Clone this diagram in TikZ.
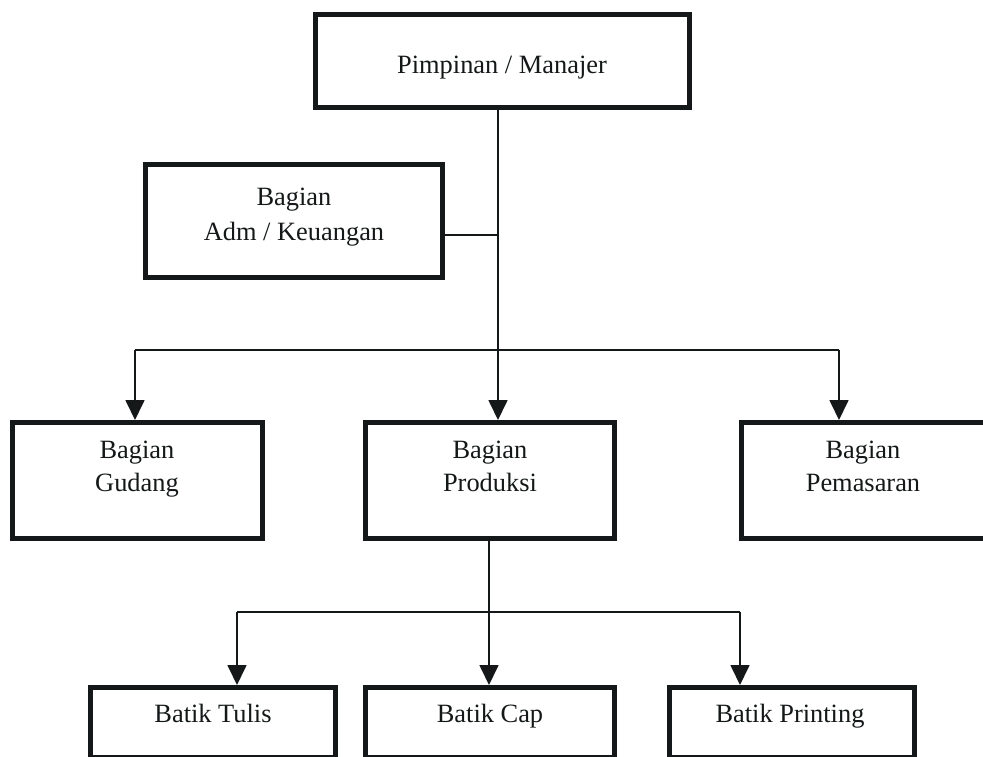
\documentclass[tikz,border=0pt]{standalone}
\usepackage{fontspec}
\setmainfont{Liberation Serif}
\usetikzlibrary{arrows.meta}
\definecolor{ink}{HTML}{141818}
\begin{document}
\begin{tikzpicture}[x=1pt,y=-1pt,
  box/.style={draw=ink, line width=5pt, inner sep=0pt},
  lbl/.style={font=\fontsize{26.4}{33}\selectfont, inner sep=0pt, text=ink, anchor=base},
  conn/.style={draw=ink, line width=1.7pt},
  arr/.style={conn, -{Triangle[width=19pt,length=20pt]}}]
\useasboundingbox (0,0) rectangle (983,756);
\clip (0,0) rectangle (983,756);
% boxes
\node[box, minimum width=374pt, minimum height=93pt] (top) at (502.5,61) {};
\node[box, minimum width=297pt, minimum height=113pt] (adm) at (294,221) {};
\node[box, minimum width=250pt, minimum height=116pt] (gud) at (137.5,480.5) {};
\node[box, minimum width=249pt, minimum height=116pt] (prod) at (490,480.5) {};
\node[box, minimum width=251pt, minimum height=116pt] (pem) at (867,480.5) {};
\node[box, minimum width=245pt, minimum height=70pt] (tulis) at (213,722.5) {};
\node[box, minimum width=249pt, minimum height=70pt] (cap) at (490,722.5) {};
\node[box, minimum width=245pt, minimum height=70pt] (print) at (792,722.5) {};
% labels
\node[lbl] (topt) at (502,73) {Pimpinan / Manajer};
\node[lbl] (adma) at (294,205) {Bagian};
\node[lbl] (admb) at (294,240) {Adm / Keuangan};
\node[lbl] (guda) at (137,458) {Bagian};
\node[lbl] (gudb) at (137,491) {Gudang};
\node[lbl] (proda) at (490,458) {Bagian};
\node[lbl] (prodb) at (490,491) {Produksi};
\node[lbl] (pema) at (863,458) {Bagian};
\node[lbl] (pemb) at (863,491) {Pemasaran};
\node[lbl] (tulist) at (213,722) {Batik Tulis};
\node[lbl] (capt) at (490,722) {Batik Cap};
\node[lbl] (printt) at (790,722) {Batik Printing};
% junctions
\coordinate (j1) at (498,235);
\coordinate (j2) at (498,350);
\coordinate (gl) at (135,350);
\coordinate (gr) at (839,350);
\coordinate (k) at (489,612);
\coordinate (bl) at (237,612);
\coordinate (br) at (740,612);
% connectors
\draw[conn] (top.south -| j1) -- (j2);
\draw[conn] (adm.east |- j1) -- (j1);
\draw[conn] (gl) -- (gr);
\draw[arr] (j2) -- (j2 |- prod.north);
\draw[arr] (gl) -- (gl |- gud.north);
\draw[arr] (gr) -- (gr |- pem.north);
\draw[conn] (prod.south -| k) -- (k);
\draw[conn] (bl) -- (br);
\draw[arr] (k) -- (k |- cap.north);
\draw[arr] (bl) -- (bl |- tulis.north);
\draw[arr] (br) -- (br |- print.north);
\end{tikzpicture}
\end{document}
